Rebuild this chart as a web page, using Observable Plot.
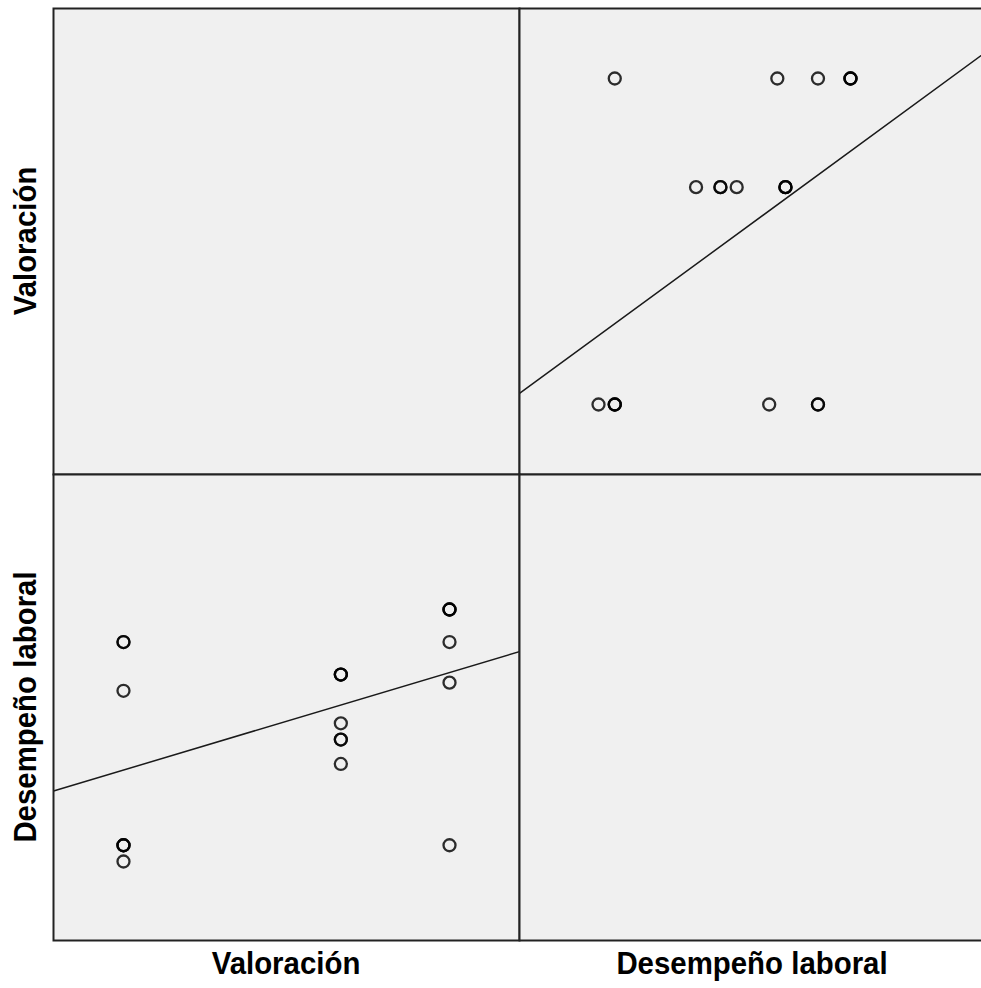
<!DOCTYPE html>
<html>
<head>
<meta charset="utf-8">
<script src="https://cdn.jsdelivr.net/npm/d3@7"></script>
<script src="https://cdn.jsdelivr.net/npm/@observablehq/plot@0.6"></script>
<style>
  html, body { margin: 0; padding: 0; background: #fff; }
  #matrix { position: relative; width: 981px; height: 988px; overflow: hidden; background: #fff; }
  .cell { position: absolute; width: 466px; height: 466px; }
  .cell svg { overflow: visible; }
  .label {
    position: absolute; white-space: nowrap;
    font-family: "Liberation Sans", Arial, sans-serif; font-weight: bold;
    font-size: 28px; line-height: 28px; color: #000;
  }
</style>
</head>
<body>
<div id="matrix"></div>
<script>
// Variables of the scatterplot matrix, in row/column order
const variables = ["Valoración", "Desempeño laboral"];

// One entry per respondent (paired values)
const valoracion = [1, 1, 1, 1, 1, 1, 1, 3, 3, 3, 3, 3, 3, 3, 4, 4, 4, 4, 4, 4];
const desempeno  = [77, 77, 71, 52, 52, 52, 50, 73, 73, 73, 67, 65, 65, 62, 81, 81, 81, 77, 72, 52];

// Axis ranges used for each variable
const valoracionRange = [0.356, 4.644];
const desempenoRange = [40.28, 97.61];

const columns = [valoracion, desempeno];
const ranges = [valoracionRange, desempenoRange];

const cellSize = 466;
const gridLeft = 53, gridTop = 8;

// Ordinary least squares fit of y on x
function fit(xs, ys) {
  const mx = d3.mean(xs), my = d3.mean(ys);
  const sxy = d3.sum(xs, (x, i) => (x - mx) * (ys[i] - my));
  const sxx = d3.sum(xs, x => (x - mx) ** 2);
  const b = sxy / sxx;
  return x => my + b * (x - mx);
}

const root = document.getElementById("matrix");

variables.forEach((rowVar, r) => {
  variables.forEach((colVar, c) => {
    const xs = columns[c], ys = columns[r];
    const marks = [];
    if (r !== c) {
      const points = xs.map((x, i) => ({x, y: ys[i]}));
      const f = fit(xs, ys);
      const fitLine = ranges[c].map(x => ({x, y: f(x)}));
      marks.push(
        Plot.line(fitLine, {x: "x", y: "y", stroke: "#1a1a1a", strokeWidth: 1.5, clip: true}),
        Plot.dot(points, {x: "x", y: "y", r: 6, fill: "none", stroke: "#000", strokeWidth: 2.3, strokeOpacity: 0.82})
      );
    }
    marks.push(Plot.frame({stroke: "#222", strokeWidth: 2}));
    const chart = Plot.plot({
      width: cellSize,
      height: cellSize,
      margin: 0,
      x: {domain: ranges[c], axis: null},
      y: {domain: ranges[r], axis: null},
      style: {background: "#f0f0f0", overflow: "visible"},
      marks
    });
    const cell = document.createElement("div");
    cell.className = "cell";
    cell.style.left = (gridLeft + c * cellSize) + "px";
    cell.style.top = (gridTop + r * cellSize) + "px";
    cell.appendChild(chart);
    root.appendChild(cell);
  });
});

// Variable names under the columns and beside the rows
variables.forEach((name, i) => {
  const bottom = document.createElement("div");
  bottom.className = "label";
  bottom.textContent = name;
  bottom.style.left = (gridLeft + i * cellSize + cellSize / 2) + "px";
  bottom.style.top = "950px";
  bottom.style.transform = "translateX(-50%) scale(1.05, 1.12)";
  root.appendChild(bottom);

  const side = document.createElement("div");
  side.className = "label";
  side.textContent = name;
  side.style.left = "26px";
  side.style.top = (gridTop + i * cellSize + cellSize / 2) + "px";
  side.style.transform = "translate(-50%, -50%) rotate(-90deg) scale(1.05, 1.12)";
  root.appendChild(side);
});
</script>
</body>
</html>
